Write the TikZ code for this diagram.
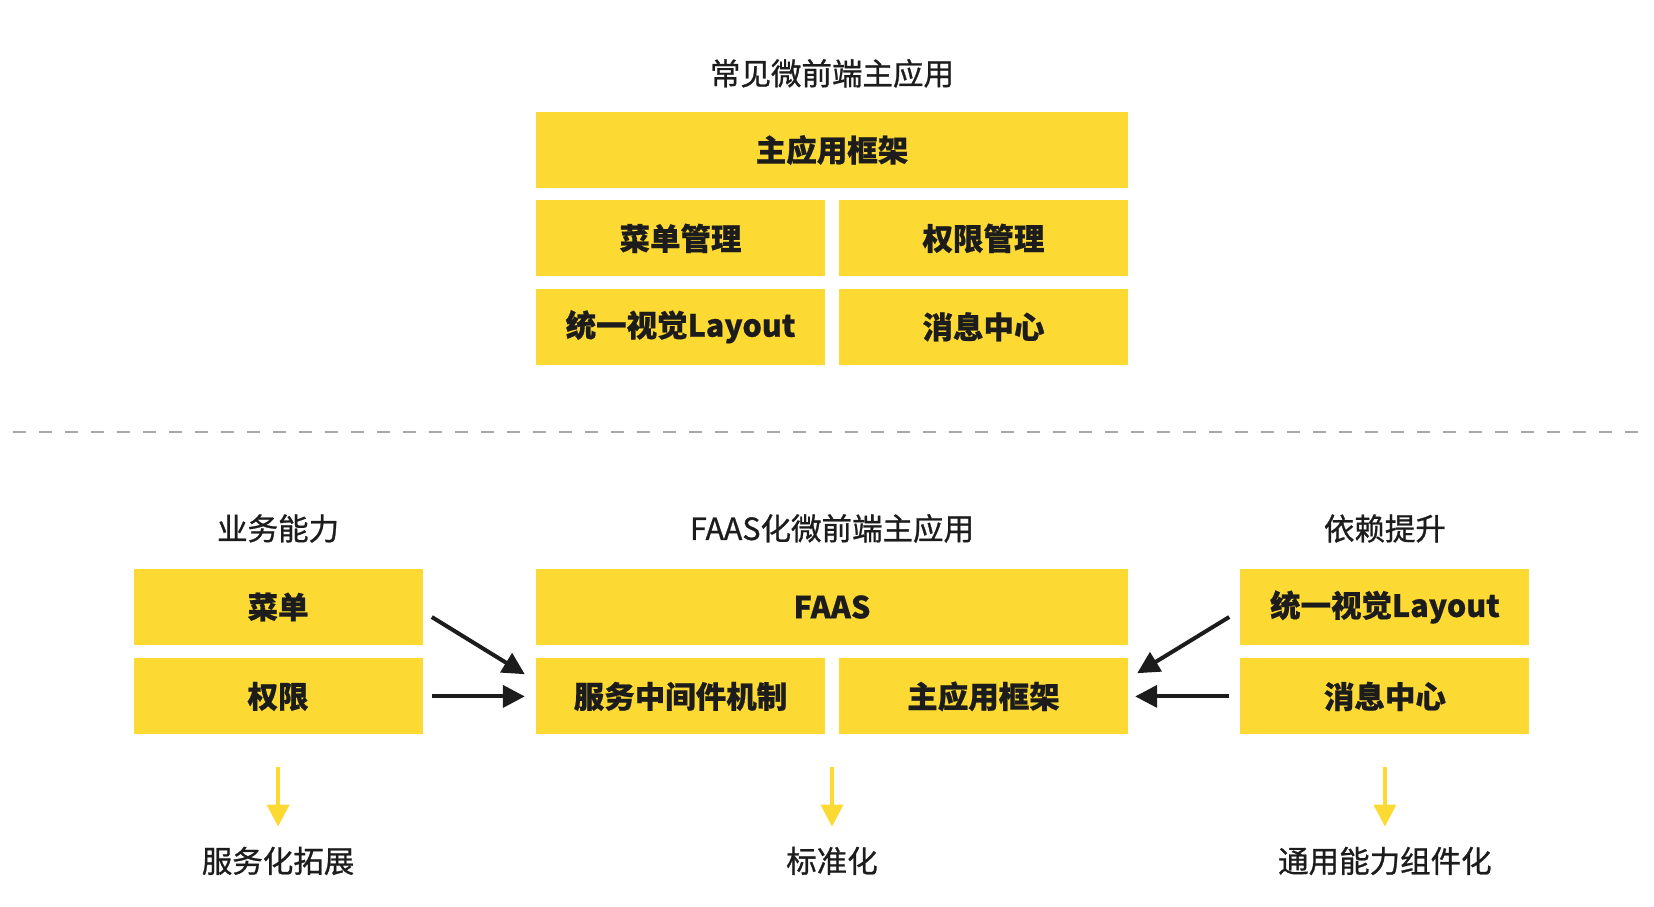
\documentclass[tikz,border=0pt]{standalone}
\usepackage{fontspec}
\setmainfont{Noto Sans CJK SC}[BoldFeatures={FakeBold=0.6}]
\newfontfamily\medfont{Noto Sans CJK SC}[FakeBold=0.9]
\usepackage{xcolor}
\usetikzlibrary{arrows.meta,positioning}

\definecolor{ylw}{HTML}{FCDA33}
\definecolor{ink}{HTML}{1C1C1C}
\definecolor{dashgray}{HTML}{A8A8A8}

\begin{document}
\begin{tikzpicture}[x=1pt, y=-1pt, node distance=12pt,
    box/.style={rectangle, fill=ylw, minimum width=289pt, minimum height=76pt, inner sep=0pt, text=ink, font=\fontsize{30.5}{36}\selectfont\bfseries},
    wide/.style={box, minimum width=592pt},
    title/.style={inner sep=0pt, text=ink, font=\fontsize{30.5}{36}\selectfont\medfont},
    link/.style={draw=ink, line width=4pt, -{Triangle[length=22pt,width=22pt]}},
    flow/.style={draw=ylw, line width=4pt, -{Triangle[length=22pt,width=22pt]}},
    divider/.style={draw=dashgray, line width=2pt, dash pattern=on 13pt off 13pt}]
    \useasboundingbox (0,0) rectangle (1654,906);

    % Upper part: common host app
    \node [wide] (frame) at (832,150) {主应用框架};
    \node [title, above=24pt of frame] (toptitle) {常见微前端主应用};
    \node [box, below=12pt of frame.south west, anchor=north west] (menumgmt) {菜单管理};
    \node [box, below=12pt of frame.south east, anchor=north east] (permmgmt) {权限管理};
    \node [box, below=12pt of menumgmt] (layout) {统一视觉Layout};
    \node [box, below=12pt of permmgmt] (msg) {消息中心};

    % Divider
    \coordinate (divl) at (13,432);
    \coordinate (divr) at (1641,432);
    \draw [divider] (divl) -- (divr);

    % Lower part: FAAS host app
    \node [wide] (faas) at (832,607) {FAAS};
    \node [title, above=26pt of faas] (faastitle) {FAAS化微前端主应用};
    \node [box, below=13pt of faas.south west, anchor=north west] (svc) {服务中间件机制};
    \node [box, below=13pt of faas.south east, anchor=north east] (host) {主应用框架};

    % Left column
    \node [box, left=113pt of faas.west] (menu) {菜单};
    \node [title, above=26pt of menu] (biztitle) {业务能力};
    \node [box, below=13pt of menu] (perm) {权限};

    % Right column
    \node [box, right=112pt of faas.east] (layoutr) {统一视觉Layout};
    \node [title, above=26pt of layoutr] (deptitle) {依赖提升};
    \node [box, below=13pt of layoutr] (msgr) {消息中心};

    % Bottom labels
    \node [title, below=112pt of perm] (extend) {服务化拓展};
    \node [title] (standard) at (faas |- extend) {标准化};
    \node [title, below=112pt of msgr] (common) {通用能力组件化};

    % Connectors
    \draw [link] ([xshift=9pt,yshift=-10pt]menu.east) -- ([xshift=-11pt,yshift=-16pt]svc.north west);
    \draw [link] ([xshift=9pt]perm.east) -- ([xshift=-11pt]svc.west);
    \draw [link] ([xshift=-11pt,yshift=-10pt]layoutr.west) -- ([xshift=9pt,yshift=-15pt]host.north east);
    \draw [link] ([xshift=-11pt]msgr.west) -- ([xshift=7pt]host.east);

    \draw [flow, shorten <=32pt, shorten >=20pt] (perm.south) -- (extend.north);
    \draw [flow, shorten >=20pt] ([yshift=-32pt]faas |- svc.south) -- (standard.north);
    \draw [flow, shorten <=32pt, shorten >=20pt] (msgr.south) -- (common.north);
\end{tikzpicture}
\end{document}
